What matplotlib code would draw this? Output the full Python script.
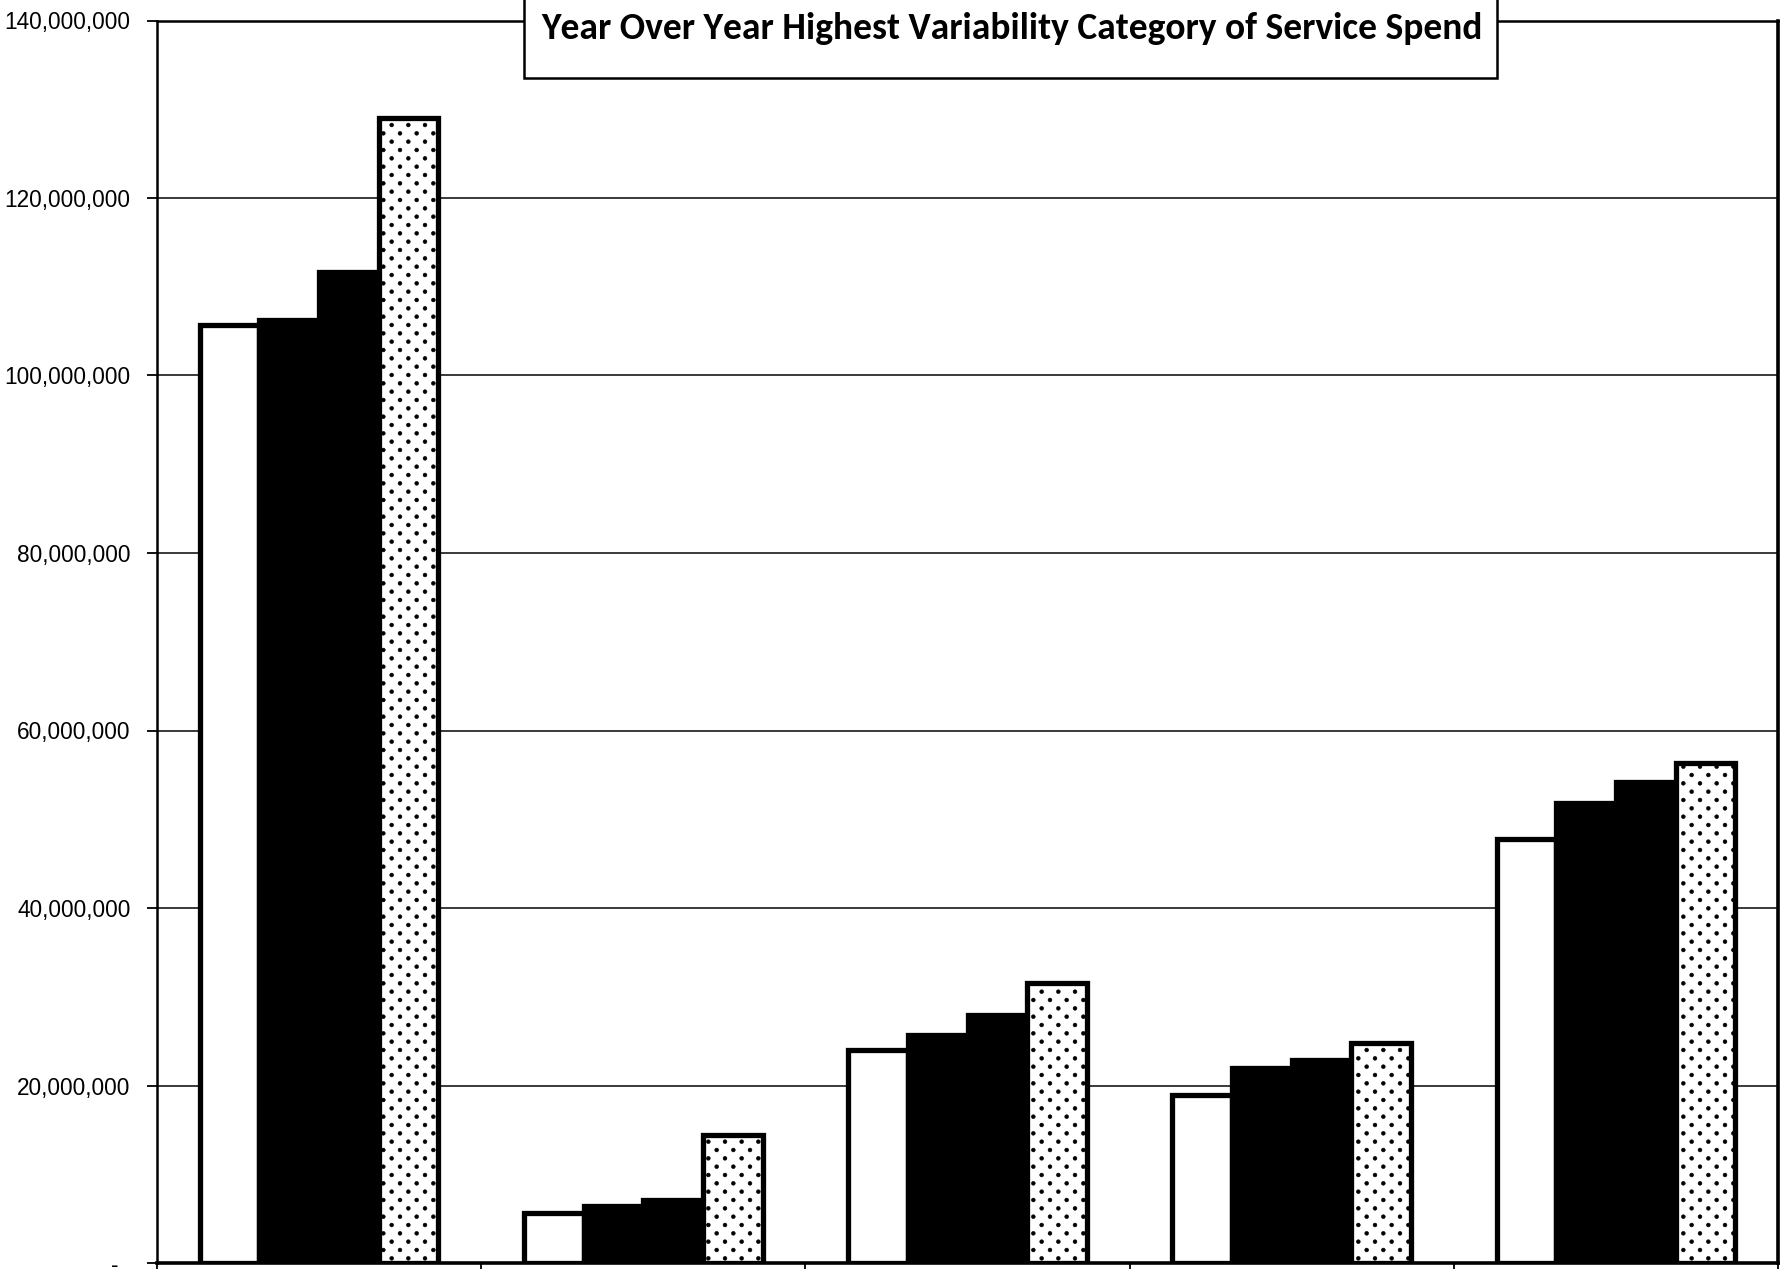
import matplotlib
matplotlib.use('Agg')
import matplotlib.pyplot as plt
import numpy as np
from matplotlib import font_manager as fm
from matplotlib import hatch as mhatch
from matplotlib.path import Path
from matplotlib.patches import Rectangle
from matplotlib.ticker import FuncFormatter

# spend per category, four years
categories = ['Category 1', 'Category 2', 'Category 3', 'Category 4', 'Category 5']
years = ['Year 1', 'Year 2', 'Year 3', 'Year 4']
year1 = [105_700_000, 5_650_000, 24_000_000, 18_900_000, 47_800_000]
year2 = [106_200_000, 6_400_000, 25_700_000, 22_000_000, 51_800_000]
year3 = [111_700_000, 7_050_000, 27_900_000, 22_900_000, 54_200_000]
year4 = [129_000_000, 14_400_000, 31_600_000, 24_800_000, 56_300_000]
yticks = np.arange(0, 140_000_001, 20_000_000)
title = 'Year Over Year Highest Variability Category of Service Spend'


# the scan's dot fill: dots in staggered rows, rows twice as close as the columns
class StaggeredDots(mhatch.HatchPatternBase):
    radius = 0.019

    def __init__(self, hatch, density):
        ncol = hatch.count('.') * density
        circle = Path.unit_circle()
        self.shape_vertices = circle.vertices
        self.shape_codes = circle.codes
        self.centers = []
        if ncol:
            nrow = 2 * ncol
            for r in range(nrow + 1):
                shift = 0.5 if r % 2 else 0.0
                for j in range(ncol + 1):
                    self.centers.append(((j + shift) / ncol, r / nrow))
        self.num_vertices = len(self.centers) * len(self.shape_vertices)

    def set_vertices_and_codes(self, vertices, codes):
        k = len(self.shape_vertices)
        for i, (cx, cy) in enumerate(self.centers):
            vertices[i * k:(i + 1) * k] = self.shape_vertices * self.radius + [cx, cy]
            codes[i * k:(i + 1) * k] = self.shape_codes


mhatch._hatch_types = [StaggeredDots if t is mhatch.SmallFilledCircles else t
                       for t in mhatch._hatch_types]


def pick_font(names, default):
    for n in names:
        try:
            fm.findfont(n, fallback_to_default=False)
            return n
        except ValueError:
            pass
    return default


tick_font = pick_font(['Liberation Sans Narrow'], 'Liberation Sans')
tick_size = 19 if tick_font == 'Liberation Sans Narrow' else 16.3
title_font = pick_font(['Carlito', 'Lato'], 'DejaVu Sans')
title_size = 27 if title_font == 'Carlito' else 24

plt.rcParams['hatch.linewidth'] = 0.4

fig = plt.figure(figsize=(17.87, 12.69), dpi=100)
ax = fig.add_axes([157 / 1787, 6 / 1269, 1621 / 1787, 1242.5 / 1269])

x = np.arange(len(categories))
width = 0.184
fills = [('white', None), ('black', None), ('black', None), ('white', '.')]
series = [year1, year2, year3, year4]
for i, (vals, (fc, hatch)) in enumerate(zip(series, fills)):
    ax.bar(x + (i - 1.5) * width, vals, width, color=fc, edgecolor='black',
           linewidth=3.8, hatch=hatch, label=years[i], zorder=3)

ax.set_xlim(-0.5, len(categories) - 0.5)
ax.set_ylim(0, 140_000_000)
ax.set_yticks(yticks)
ax.yaxis.set_major_formatter(FuncFormatter(lambda v, p: '-  ' if v == 0 else '{:,.0f}'.format(v)))
ax.set_xticks(np.arange(len(categories) + 1) - 0.5)
ax.set_xticklabels([])
ax.tick_params(axis='y', length=7, width=1.3, pad=12, labelsize=tick_size)
ax.tick_params(axis='x', length=8, width=1.3)
for lab in ax.get_yticklabels():
    lab.set_fontfamily(tick_font)

ax.grid(axis='y', color='#2a2a2a', linewidth=1.3)
ax.set_axisbelow(True)
ax.spines['left'].set_linewidth(1.8)
ax.spines['top'].set_linewidth(1.8)
ax.spines['right'].set_linewidth(2.6)
ax.spines['bottom'].set_linewidth(2.6)

# boxed title sitting over the top frame line
box = Rectangle((524 / 1787, 1 - 78 / 1269), 973 / 1787, 0.1, transform=fig.transFigure,
                facecolor='white', edgecolor='black', linewidth=1.8, zorder=5)
fig.patches.append(box)
fig.text(1012 / 1787, 1 - 28.5 / 1269, title, ha='center', va='center', fontsize=title_size,
         fontweight='bold', fontfamily=title_font, zorder=6)

fig.savefig('out.png', dpi=100)
